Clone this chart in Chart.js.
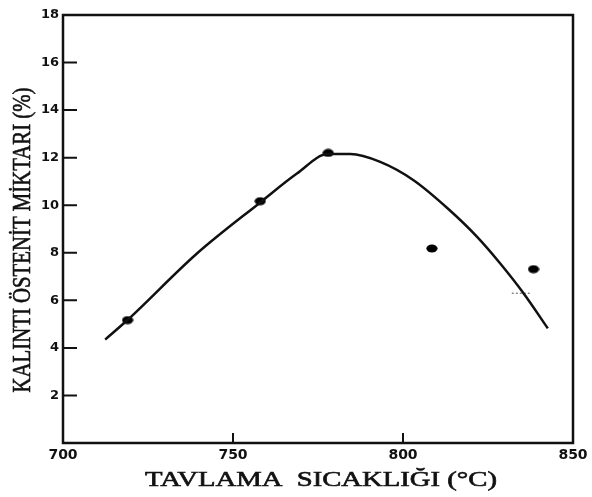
<!DOCTYPE html>
<html>
<head>
<meta charset="utf-8">
<script src="https://cdn.jsdelivr.net/npm/chart.js@4.4.1/dist/chart.umd.min.js"></script>
<style>
  html, body { margin: 0; padding: 0; background: #fff; }
  #wrap { width: 592px; height: 497px; position: relative; }
</style>
</head>
<body>
<div id="wrap"><canvas id="grafik"></canvas></div>
<script>
// ölçülen noktalar (tavlama sıcaklığı, kalıntı östenit %)
const olcumX = [719, 758, 778, 808.5, 838.4];
const olcumY = [5.17, 10.17, 12.2, 8.18, 7.31];

// elle çizilmiş eğri, resimden okunan noktalar
const egriX = [712.4, 718.8, 739.4, 758.3, 768.8, 777.9, 784.5, 793.3, 803.1, 813.5, 821.8, 828.6, 835.5, 842.6];
const egriY = [4.35, 5.15, 7.97, 10.15, 11.33, 12.15, 12.15, 11.82, 11.05, 9.82, 8.67, 7.55, 6.29, 4.82];

// taramadaki küçük kesik çizgi
const kesikX = [832, 837.4];
const kesikY = [6.3, 6.3];

const xTikler = [700, 750, 800, 850];
const yTikler = [2, 4, 6, 8, 10, 12, 14, 16, 18];

const xBaslik = 'TAVLAMA  SICAKLIĞI (°C)';
const yBaslik = 'KALINTI ÖSTENİT MİKTARI (%)';

function ciftler(xs, ys) {
    return xs.map((x, i) => ({ x: x, y: ys[i] }));
}

// basılı noktalar hafif yassı
function yassiNokta() {
    const c = document.createElement('canvas');
    c.width = 12; c.height = 9;
    const g = c.getContext('2d');
    g.fillStyle = '#000';
    g.beginPath();
    g.ellipse(6, 4.5, 5.6, 4, 0, 0, Math.PI * 2);
    g.fill();
    return c;
}

// başlığı verilen uzunluğa sığdırarak yaz
function yaziSigdir(ctx, text, cx, cy, boy, aci, font) {
    ctx.save();
    ctx.font = font;
    ctx.fillStyle = '#111';
    ctx.strokeStyle = '#111';
    ctx.lineWidth = 0.6;
    ctx.textAlign = 'center';
    ctx.textBaseline = 'middle';
    const w = ctx.measureText(text).width;
    ctx.translate(cx, cy);
    ctx.rotate(aci);
    ctx.scale(boy / w, 1);
    ctx.fillText(text, 0, 0);
    ctx.strokeText(text, 0, 0);
    ctx.restore();
}

// çerçeve, içe dönük tikler ve eksen başlıkları
const cerceve = {
    id: 'cerceve',
    afterDraw(chart) {
        const ctx = chart.ctx;
        const a = chart.chartArea;
        const xs = chart.scales.x, ys = chart.scales.y;
        ctx.save();
        ctx.strokeStyle = '#111';
        ctx.lineWidth = 2.5;
        ctx.beginPath();
        ctx.rect(a.left, a.top, a.right - a.left, a.bottom - a.top);
        ctx.stroke();
        ctx.lineWidth = 2;
        ctx.beginPath();
        yTikler.forEach(v => {
            if (v >= 18) return;
            const p = ys.getPixelForValue(v);
            ctx.moveTo(a.left, p);
            ctx.lineTo(a.left + 14, p);
        });
        [750, 800].forEach(v => {
            const p = xs.getPixelForValue(v);
            ctx.moveTo(p, a.bottom);
            ctx.lineTo(p, a.bottom - 10);
        });
        ctx.stroke();
        ctx.restore();

        yaziSigdir(ctx, xBaslik, 321, 480, 352, 0, '21px "Liberation Serif"');
        yaziSigdir(ctx, yBaslik, 23, 240, 305, -Math.PI / 2, '26px "Liberation Serif"');
    }
};

window.onload = function() {
    const ctx = document.getElementById('grafik').getContext('2d');
    const nokta = yassiNokta();
    new Chart(ctx, {
        type: 'scatter',
        data: {
            datasets: [{
                label: 'eğri',
                type: 'line',
                data: ciftler(egriX, egriY),
                borderColor: '#111',
                borderWidth: 2.5,
                pointRadius: 0,
                cubicInterpolationMode: 'monotone',
                fill: false
            }, {
                label: 'ölçüm',
                data: ciftler(olcumX, olcumY),
                backgroundColor: '#000',
                borderColor: '#000',
                pointRadius: 6,
                pointStyle: nokta
            }, {
                label: 'kesik',
                type: 'line',
                data: ciftler(kesikX, kesikY),
                borderColor: '#555',
                borderWidth: 1,
                borderDash: [2, 2],
                pointRadius: 0
            }]
        },
        options: {
            responsive: true,
            maintainAspectRatio: false,
            animation: false,
            layout: { padding: { left: 0, right: 19, top: 15, bottom: 0 } },
            plugins: {
                legend: { display: false },
                tooltip: { enabled: false }
            },
            scales: {
                x: {
                    type: 'linear',
                    min: 700,
                    max: 850,
                    afterBuildTicks: s => { s.ticks = xTikler.map(v => ({ value: v })); },
                    grid: { display: false, drawTicks: false },
                    border: { display: false },
                    ticks: {
                        color: '#111',
                        padding: 4,
                        font: { family: 'DejaVu Sans', size: 14, weight: 'bold' }
                    },
                    title: { display: false },
                    afterFit: s => { s.height = 54; }
                },
                y: {
                    min: 0,
                    max: 18,
                    afterBuildTicks: s => { s.ticks = yTikler.map(v => ({ value: v })); },
                    grid: { display: false, drawTicks: false },
                    border: { display: false },
                    ticks: {
                        color: '#111',
                        padding: 4,
                        font: { family: 'DejaVu Sans', size: 13, weight: 'bold' }
                    },
                    title: { display: false },
                    afterFit: s => { s.width = 63; }
                }
            }
        },
        plugins: [cerceve]
    });
};
</script>
</body>
</html>
